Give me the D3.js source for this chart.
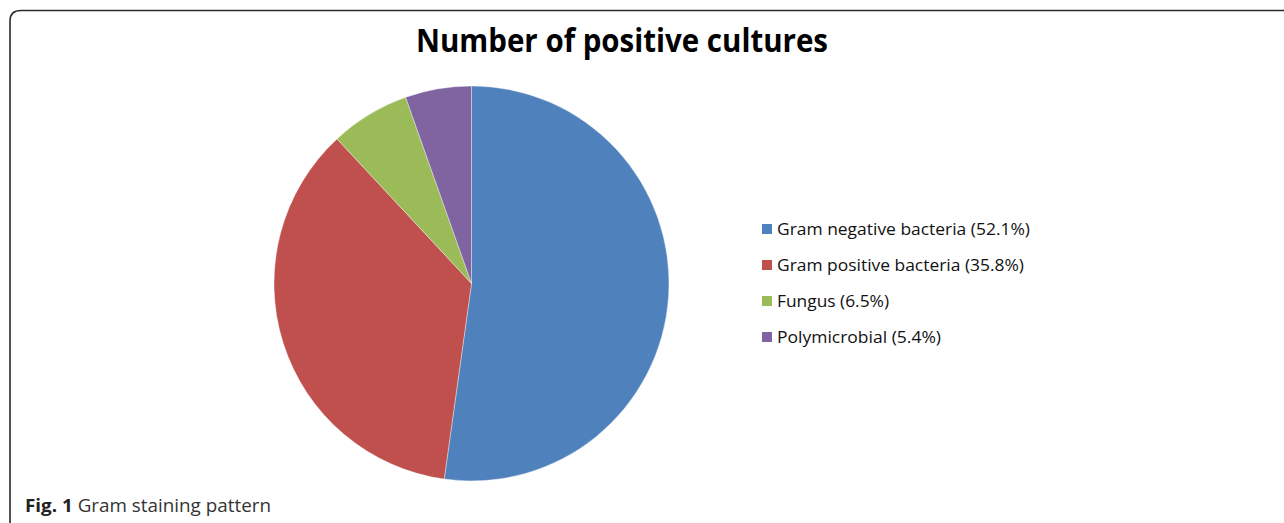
<!DOCTYPE html>
<html><head><meta charset="utf-8">
<script src="https://cdn.jsdelivr.net/npm/d3@7"></script>
<style>html,body{margin:0;padding:0;background:#fff;overflow:hidden}</style>
</head><body>
<svg id="c" width="1284" height="523"></svg>
<script>
const categories = ["Gram negative bacteria", "Gram positive bacteria", "Fungus", "Polymicrobial"];
const values = [52.1, 35.8, 6.5, 5.4];
const legendLabels = ["Gram negative bacteria (52.1%)", "Gram positive bacteria (35.8%)", "Fungus (6.5%)", "Polymicrobial (5.4%)"];
const colors = ["#4f81bd", "#c0504d", "#9bbb59", "#8064a2"];
const title = "Number of positive cultures";

const svg = d3.select("#c");
const font = "'Open Sans', 'Liberation Sans', sans-serif";

// frame with rounded top-left corner, extending off the right and bottom
svg.append("path")
  .attr("d", "M10,540 L10,21 Q10,10.5 21,10.5 L1300,10.5")
  .attr("fill", "none").attr("stroke", "#2a2a2a").attr("stroke-width", 1.6);

function squeeze(sel, w) {
  sel.attr("textLength", w).attr("lengthAdjust", "spacingAndGlyphs");
}

const t = svg.append("text").attr("x", 622).attr("y", 52).attr("text-anchor", "middle")
  .attr("font-family", font).attr("font-weight", "bold").attr("font-size", 32)
  .attr("fill", "#000").text(title);
squeeze(t, 412);

const cx = 471.5, cy = 283.5, r = 197.5;
const pie = d3.pie().sort(null).value(d => d)(values);
const arc = d3.arc().innerRadius(0).outerRadius(r);
svg.append("g").attr("transform", `translate(${cx},${cy})`)
  .selectAll("path").data(pie).join("path")
  .attr("d", arc).attr("fill", (d, i) => colors[i])
  .attr("stroke", "#ffffff").attr("stroke-width", 0.6).attr("stroke-opacity", 0.6);

const y = d3.scalePoint().domain(categories).range([229, 337]);
const widths = [253, 247, 112, 164];
const lg = svg.append("g");
categories.forEach((c, i) => {
  lg.append("rect").attr("x", 762).attr("y", y(c) - 5).attr("width", 10).attr("height", 10).attr("fill", colors[i]);
  const tx = lg.append("text").attr("x", 777).attr("y", y(c) + 6)
    .attr("font-family", font).attr("font-size", 16.5).attr("fill", "#111").text(legendLabels[i]);
  squeeze(tx, widths[i]);
});

const cap = svg.append("text").attr("x", 25).attr("y", 512).attr("font-family", font).attr("font-size", 17.5).attr("fill", "#333")
  .attr("textLength", 246).attr("lengthAdjust", "spacingAndGlyphs");
cap.append("tspan").attr("font-weight", "bold").attr("fill", "#222").text("Fig. 1");
cap.append("tspan").text(" Gram staining pattern");
</script>
</body></html>
